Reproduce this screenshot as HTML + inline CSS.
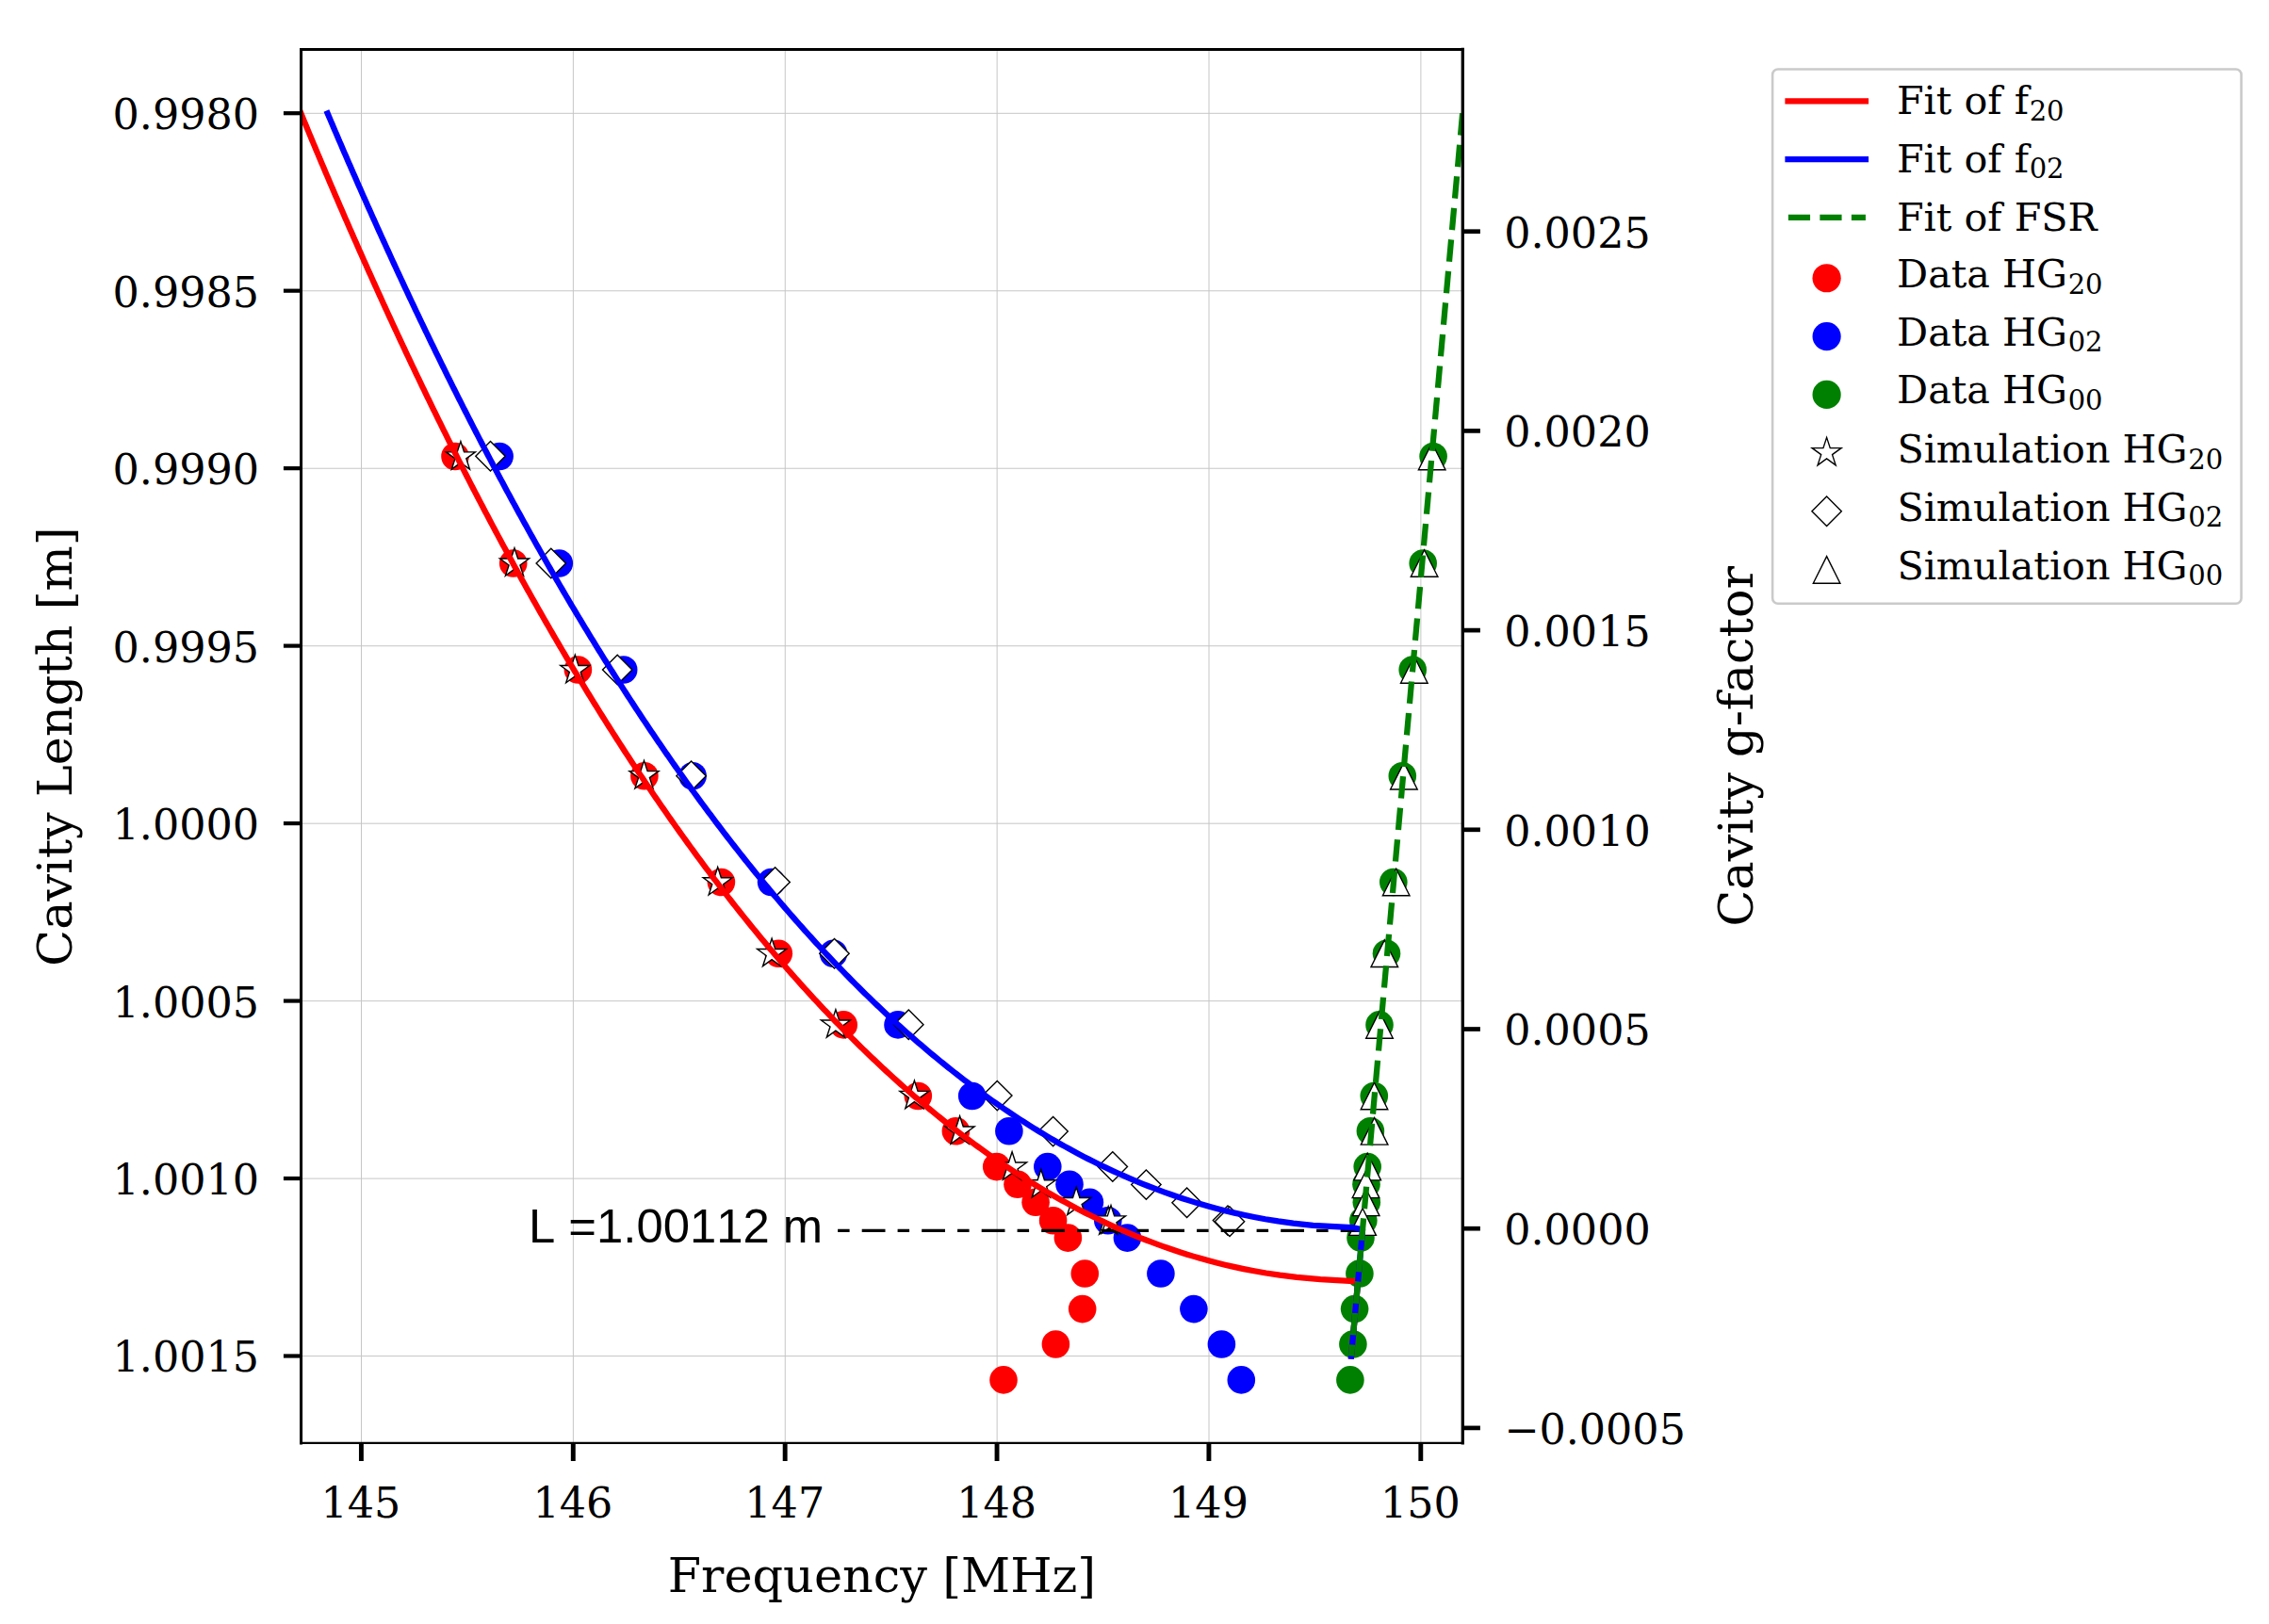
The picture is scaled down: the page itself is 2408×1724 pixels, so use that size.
<!DOCTYPE html>
<html><head><meta charset="utf-8"><title>Cavity Length vs Frequency</title>
<style>html,body{margin:0;padding:0;background:#fff}body{width:2408px;height:1724px;overflow:hidden}</style></head>
<body>
<svg width="2408" height="1724" viewBox="0 0 2408 1724" style="display:block">
<rect width="2408" height="1724" fill="#fff"/>
<defs><clipPath id="ax"><rect x="319.53" y="52.47" width="1232.77" height="1479.46"/></clipPath></defs>
<g stroke="#c6c6c6" stroke-width="1" fill="none"><line x1="383.50" y1="52.47" x2="383.50" y2="1531.93"/><line x1="608.38" y1="52.47" x2="608.38" y2="1531.93"/><line x1="833.26" y1="52.47" x2="833.26" y2="1531.93"/><line x1="1058.14" y1="52.47" x2="1058.14" y2="1531.93"/><line x1="1283.02" y1="52.47" x2="1283.02" y2="1531.93"/><line x1="1507.90" y1="52.47" x2="1507.90" y2="1531.93"/><line x1="319.53" y1="120.30" x2="1552.30" y2="120.30"/><line x1="319.53" y1="308.77" x2="1552.30" y2="308.77"/><line x1="319.53" y1="497.24" x2="1552.30" y2="497.24"/><line x1="319.53" y1="685.71" x2="1552.30" y2="685.71"/><line x1="319.53" y1="874.18" x2="1552.30" y2="874.18"/><line x1="319.53" y1="1062.65" x2="1552.30" y2="1062.65"/><line x1="319.53" y1="1251.12" x2="1552.30" y2="1251.12"/><line x1="319.53" y1="1439.59" x2="1552.30" y2="1439.59"/></g>
<g clip-path="url(#ax)">
<g fill="#ff0000"><circle cx="483.00" cy="484.50" r="14.80"/><circle cx="544.70" cy="598.00" r="14.80"/><circle cx="613.40" cy="711.00" r="14.80"/><circle cx="683.90" cy="823.70" r="14.80"/><circle cx="765.40" cy="936.50" r="14.80"/><circle cx="826.30" cy="1012.20" r="14.80"/><circle cx="895.20" cy="1087.90" r="14.80"/><circle cx="974.30" cy="1163.50" r="14.80"/><circle cx="1014.40" cy="1200.80" r="14.80"/><circle cx="1057.70" cy="1238.60" r="14.80"/><circle cx="1080.00" cy="1257.30" r="14.80"/><circle cx="1099.10" cy="1276.30" r="14.80"/><circle cx="1117.60" cy="1295.70" r="14.80"/><circle cx="1133.40" cy="1314.10" r="14.80"/><circle cx="1151.30" cy="1352.00" r="14.80"/><circle cx="1148.70" cy="1389.60" r="14.80"/><circle cx="1120.40" cy="1427.00" r="14.80"/><circle cx="1065.00" cy="1464.90" r="14.80"/></g>
<g fill="#0000ff"><circle cx="530.10" cy="484.50" r="14.80"/><circle cx="593.30" cy="598.00" r="14.80"/><circle cx="661.70" cy="711.00" r="14.80"/><circle cx="735.10" cy="823.70" r="14.80"/><circle cx="818.60" cy="936.50" r="14.80"/><circle cx="884.50" cy="1012.20" r="14.80"/><circle cx="953.00" cy="1087.90" r="14.80"/><circle cx="1031.70" cy="1163.50" r="14.80"/><circle cx="1070.90" cy="1200.80" r="14.80"/><circle cx="1111.80" cy="1238.60" r="14.80"/><circle cx="1135.00" cy="1257.30" r="14.80"/><circle cx="1156.40" cy="1276.30" r="14.80"/><circle cx="1175.80" cy="1295.70" r="14.80"/><circle cx="1196.40" cy="1314.10" r="14.80"/><circle cx="1231.90" cy="1352.00" r="14.80"/><circle cx="1266.90" cy="1389.60" r="14.80"/><circle cx="1296.40" cy="1427.00" r="14.80"/><circle cx="1317.30" cy="1464.90" r="14.80"/></g>
<g fill="#008000"><circle cx="1521.10" cy="484.50" r="14.80"/><circle cx="1510.20" cy="598.00" r="14.80"/><circle cx="1499.20" cy="711.00" r="14.80"/><circle cx="1488.30" cy="823.70" r="14.80"/><circle cx="1478.80" cy="936.50" r="14.80"/><circle cx="1471.50" cy="1012.20" r="14.80"/><circle cx="1464.00" cy="1087.90" r="14.80"/><circle cx="1458.30" cy="1163.50" r="14.80"/><circle cx="1454.40" cy="1200.80" r="14.80"/><circle cx="1451.20" cy="1238.60" r="14.80"/><circle cx="1450.00" cy="1257.30" r="14.80"/><circle cx="1450.30" cy="1276.30" r="14.80"/><circle cx="1446.80" cy="1295.70" r="14.80"/><circle cx="1444.00" cy="1314.10" r="14.80"/><circle cx="1442.90" cy="1352.00" r="14.80"/><circle cx="1437.60" cy="1389.60" r="14.80"/><circle cx="1435.90" cy="1427.00" r="14.80"/><circle cx="1432.90" cy="1464.90" r="14.80"/></g>
<g fill="#fff" stroke="#000" stroke-width="1.40" stroke-linejoin="miter">
<path d="M488.90 468.60 L485.24 479.86 L473.40 479.86 L482.98 486.82 L479.32 498.09 L488.90 491.13 L498.48 498.09 L494.82 486.82 L504.40 479.86 L492.56 479.86Z"/><path d="M546.00 581.70 L542.34 592.96 L530.50 592.96 L540.08 599.92 L536.42 611.19 L546.00 604.23 L555.58 611.19 L551.92 599.92 L561.50 592.96 L549.66 592.96Z"/><path d="M610.30 695.30 L606.64 706.56 L594.80 706.56 L604.38 713.52 L600.72 724.79 L610.30 717.83 L619.88 724.79 L616.22 713.52 L625.80 706.56 L613.96 706.56Z"/><path d="M683.50 807.40 L679.84 818.66 L668.00 818.66 L677.58 825.62 L673.92 836.89 L683.50 829.93 L693.08 836.89 L689.42 825.62 L699.00 818.66 L687.16 818.66Z"/><path d="M761.70 920.50 L758.04 931.76 L746.20 931.76 L755.78 938.72 L752.12 949.99 L761.70 943.03 L771.28 949.99 L767.62 938.72 L777.20 931.76 L765.36 931.76Z"/><path d="M819.10 996.20 L815.44 1007.46 L803.60 1007.46 L813.18 1014.42 L809.52 1025.69 L819.10 1018.73 L828.68 1025.69 L825.02 1014.42 L834.60 1007.46 L822.76 1007.46Z"/><path d="M886.90 1071.70 L883.24 1082.96 L871.40 1082.96 L880.98 1089.92 L877.32 1101.19 L886.90 1094.23 L896.48 1101.19 L892.82 1089.92 L902.40 1082.96 L890.56 1082.96Z"/><path d="M970.40 1147.10 L966.74 1158.36 L954.90 1158.36 L964.48 1165.32 L960.82 1176.59 L970.40 1169.63 L979.98 1176.59 L976.32 1165.32 L985.90 1158.36 L974.06 1158.36Z"/><path d="M1018.60 1184.80 L1014.94 1196.06 L1003.10 1196.06 L1012.68 1203.02 L1009.02 1214.29 L1018.60 1207.33 L1028.18 1214.29 L1024.52 1203.02 L1034.10 1196.06 L1022.26 1196.06Z"/><path d="M1074.10 1222.80 L1070.44 1234.06 L1058.60 1234.06 L1068.18 1241.02 L1064.52 1252.29 L1074.10 1245.33 L1083.68 1252.29 L1080.02 1241.02 L1089.60 1234.06 L1077.76 1234.06Z"/><path d="M1104.80 1241.50 L1101.14 1252.76 L1089.30 1252.76 L1098.88 1259.72 L1095.22 1270.99 L1104.80 1264.03 L1114.38 1270.99 L1110.72 1259.72 L1120.30 1252.76 L1108.46 1252.76Z"/><path d="M1142.20 1260.20 L1138.54 1271.46 L1126.70 1271.46 L1136.28 1278.42 L1132.62 1289.69 L1142.20 1282.73 L1151.78 1289.69 L1148.12 1278.42 L1157.70 1271.46 L1145.86 1271.46Z"/><path d="M1176.20 1280.70 L1172.54 1291.96 L1160.70 1291.96 L1170.28 1298.92 L1166.62 1310.19 L1176.20 1303.23 L1185.78 1310.19 L1182.12 1298.92 L1191.70 1291.96 L1179.86 1291.96Z"/><path d="M1179.00 1279.60 L1175.34 1290.86 L1163.50 1290.86 L1173.08 1297.82 L1169.42 1309.09 L1179.00 1302.13 L1188.58 1309.09 L1184.92 1297.82 L1194.50 1290.86 L1182.66 1290.86Z"/>
<path d="M520.50 468.60 L536.20 484.30 L520.50 500.00 L504.80 484.30Z"/><path d="M584.80 582.30 L600.50 598.00 L584.80 613.70 L569.10 598.00Z"/><path d="M655.20 695.30 L670.90 711.00 L655.20 726.70 L639.50 711.00Z"/><path d="M733.60 808.00 L749.30 823.70 L733.60 839.40 L717.90 823.70Z"/><path d="M822.60 920.70 L838.30 936.40 L822.60 952.10 L806.90 936.40Z"/><path d="M885.50 996.50 L901.20 1012.20 L885.50 1027.90 L869.80 1012.20Z"/><path d="M964.30 1072.00 L980.00 1087.70 L964.30 1103.40 L948.60 1087.70Z"/><path d="M1058.30 1147.40 L1074.00 1163.10 L1058.30 1178.80 L1042.60 1163.10Z"/><path d="M1117.60 1185.40 L1133.30 1201.10 L1117.60 1216.80 L1101.90 1201.10Z"/><path d="M1180.80 1222.80 L1196.50 1238.50 L1180.80 1254.20 L1165.10 1238.50Z"/><path d="M1216.40 1241.90 L1232.10 1257.60 L1216.40 1273.30 L1200.70 1257.60Z"/><path d="M1259.60 1261.10 L1275.30 1276.80 L1259.60 1292.50 L1243.90 1276.80Z"/><path d="M1303.00 1279.90 L1318.70 1295.60 L1303.00 1311.30 L1287.30 1295.60Z"/><path d="M1305.00 1281.00 L1320.70 1296.70 L1305.00 1312.40 L1289.30 1296.70Z"/>
<path d="M1519.70 470.20 L1534.00 498.80 L1505.40 498.80Z"/><path d="M1511.60 583.70 L1525.90 612.30 L1497.30 612.30Z"/><path d="M1500.80 696.70 L1515.10 725.30 L1486.50 725.30Z"/><path d="M1489.90 809.40 L1504.20 838.00 L1475.60 838.00Z"/><path d="M1481.70 922.20 L1496.00 950.80 L1467.40 950.80Z"/><path d="M1469.30 997.90 L1483.60 1026.50 L1455.00 1026.50Z"/><path d="M1464.00 1073.60 L1478.30 1102.20 L1449.70 1102.20Z"/><path d="M1458.50 1149.20 L1472.80 1177.80 L1444.20 1177.80Z"/><path d="M1458.60 1186.50 L1472.90 1215.10 L1444.30 1215.10Z"/><path d="M1451.20 1224.30 L1465.50 1252.90 L1436.90 1252.90Z"/><path d="M1449.50 1243.00 L1463.80 1271.60 L1435.20 1271.60Z"/><path d="M1449.70 1262.00 L1464.00 1290.60 L1435.40 1290.60Z"/><path d="M1446.10 1282.80 L1460.40 1311.40 L1431.80 1311.40Z"/>
</g>
<line x1="889.1" y1="1306.4" x2="1446.7" y2="1306.4" stroke="#000" stroke-width="3.1" stroke-dasharray="12.5 13.1 24.8 13.1"/>
<polyline points="319.38,120.30 320.29,122.50 321.20,124.70 322.11,126.91 323.02,129.11 323.93,131.31 324.84,133.51 325.75,135.72 326.66,137.92 327.58,140.12 328.49,142.32 329.41,144.53 330.33,146.73 331.25,148.93 332.17,151.13 333.09,153.34 334.01,155.54 334.93,157.74 335.85,159.94 336.78,162.15 337.70,164.35 338.63,166.55 339.56,168.75 340.49,170.96 341.42,173.16 342.35,175.36 343.28,177.56 344.21,179.77 345.14,181.97 346.08,184.17 347.01,186.37 347.95,188.58 348.89,190.78 349.83,192.98 350.77,195.18 351.71,197.39 352.65,199.59 353.59,201.79 354.54,203.99 355.48,206.20 356.43,208.40 357.38,210.60 358.33,212.80 359.27,215.01 360.23,217.21 361.18,219.41 362.13,221.61 363.08,223.82 364.04,226.02 365.00,228.22 365.95,230.42 366.91,232.63 367.87,234.83 368.83,237.03 369.79,239.23 370.76,241.44 371.72,243.64 372.68,245.84 373.65,248.04 374.62,250.25 375.59,252.45 376.56,254.65 377.53,256.85 378.50,259.06 379.47,261.26 380.45,263.46 381.42,265.66 382.40,267.87 383.37,270.07 384.35,272.27 385.33,274.47 386.31,276.68 387.30,278.88 388.28,281.08 389.26,283.28 390.25,285.49 391.24,287.69 392.23,289.89 393.22,292.09 394.21,294.30 395.20,296.50 396.19,298.70 397.19,300.90 398.18,303.11 399.18,305.31 400.18,307.51 401.17,309.71 402.18,311.92 403.18,314.12 404.18,316.32 405.18,318.52 406.19,320.73 407.20,322.93 408.20,325.13 409.21,327.33 410.22,329.54 411.24,331.74 412.25,333.94 413.26,336.14 414.28,338.35 415.30,340.55 416.31,342.75 417.33,344.95 418.35,347.16 419.38,349.36 420.40,351.56 421.42,353.76 422.45,355.97 423.48,358.17 424.51,360.37 425.54,362.57 426.57,364.78 427.60,366.98 428.63,369.18 429.67,371.38 430.70,373.59 431.74,375.79 432.78,377.99 433.82,380.19 434.87,382.40 435.91,384.60 436.95,386.80 438.00,389.00 439.05,391.21 440.10,393.41 441.15,395.61 442.20,397.81 443.25,400.02 444.31,402.22 445.36,404.42 446.42,406.62 447.48,408.83 448.54,411.03 449.60,413.23 450.66,415.43 451.73,417.64 452.80,419.84 453.86,422.04 454.93,424.24 456.00,426.45 457.07,428.65 458.15,430.85 459.22,433.05 460.30,435.26 461.38,437.46 462.46,439.66 463.54,441.86 464.62,444.07 465.70,446.27 466.79,448.47 467.88,450.67 468.96,452.88 470.06,455.08 471.15,457.28 472.24,459.48 473.33,461.69 474.43,463.89 475.53,466.09 476.63,468.29 477.73,470.50 478.83,472.70 479.94,474.90 481.04,477.10 482.15,479.31 483.26,481.51 484.37,483.71 485.48,485.91 486.60,488.12 487.71,490.32 488.83,492.52 489.95,494.72 491.07,496.93 492.19,499.13 493.31,501.33 494.44,503.53 495.57,505.74 496.69,507.94 497.82,510.14 498.96,512.34 500.09,514.55 501.23,516.75 502.36,518.95 503.50,521.15 504.64,523.36 505.79,525.56 506.93,527.76 508.08,529.96 509.22,532.17 510.37,534.37 511.53,536.57 512.68,538.77 513.83,540.98 514.99,543.18 516.15,545.38 517.31,547.58 518.47,549.79 519.64,551.99 520.80,554.19 521.97,556.39 523.14,558.60 524.31,560.80 525.48,563.00 526.66,565.20 527.83,567.40 529.01,569.61 530.19,571.81 531.38,574.01 532.56,576.21 533.75,578.42 534.94,580.62 536.13,582.82 537.32,585.02 538.51,587.23 539.71,589.43 540.91,591.63 542.11,593.83 543.31,596.04 544.51,598.24 545.72,600.44 546.93,602.64 548.14,604.85 549.35,607.05 550.56,609.25 551.78,611.45 553.00,613.66 554.22,615.86 555.44,618.06 556.67,620.26 557.89,622.47 559.12,624.67 560.35,626.87 561.59,629.07 562.82,631.28 564.06,633.48 565.30,635.68 566.54,637.88 567.78,640.09 569.03,642.29 570.28,644.49 571.53,646.69 572.78,648.90 574.03,651.10 575.29,653.30 576.55,655.50 577.81,657.71 579.07,659.91 580.34,662.11 581.61,664.31 582.88,666.52 584.15,668.72 585.43,670.92 586.70,673.12 587.98,675.33 589.27,677.53 590.55,679.73 591.84,681.93 593.13,684.14 594.42,686.34 595.71,688.54 597.01,690.74 598.31,692.95 599.61,695.15 600.91,697.35 602.22,699.55 603.53,701.76 604.84,703.96 606.15,706.16 607.47,708.36 608.79,710.57 610.11,712.77 611.44,714.97 612.76,717.17 614.09,719.38 615.42,721.58 616.76,723.78 618.09,725.98 619.43,728.19 620.78,730.39 622.12,732.59 623.47,734.79 624.82,737.00 626.17,739.20 627.53,741.40 628.89,743.60 630.25,745.81 631.61,748.01 632.98,750.21 634.35,752.41 635.72,754.62 637.10,756.82 638.47,759.02 639.86,761.22 641.24,763.43 642.63,765.63 644.02,767.83 645.41,770.03 646.80,772.24 648.20,774.44 649.60,776.64 651.01,778.84 652.42,781.05 653.83,783.25 655.24,785.45 656.66,787.65 658.08,789.86 659.50,792.06 660.92,794.26 662.35,796.46 663.79,798.67 665.22,800.87 666.66,803.07 668.10,805.27 669.55,807.48 670.99,809.68 672.45,811.88 673.90,814.08 675.36,816.29 676.82,818.49 678.29,820.69 679.75,822.89 681.23,825.10 682.70,827.30 684.18,829.50 685.66,831.70 687.15,833.91 688.63,836.11 690.13,838.31 691.62,840.51 693.12,842.72 694.63,844.92 696.13,847.12 697.64,849.32 699.16,851.53 700.67,853.73 702.19,855.93 703.72,858.13 705.25,860.34 706.78,862.54 708.32,864.74 709.86,866.94 711.40,869.15 712.95,871.35 714.50,873.55 716.06,875.75 717.62,877.96 719.18,880.16 720.75,882.36 722.32,884.56 723.90,886.77 725.48,888.97 727.06,891.17 728.65,893.37 730.24,895.58 731.84,897.78 733.44,899.98 735.04,902.18 736.65,904.39 738.27,906.59 739.89,908.79 741.51,910.99 743.14,913.20 744.77,915.40 746.40,917.60 748.04,919.80 749.69,922.01 751.34,924.21 752.99,926.41 754.65,928.61 756.32,930.82 757.98,933.02 759.66,935.22 761.34,937.42 763.02,939.63 764.71,941.83 766.40,944.03 768.10,946.23 769.80,948.44 771.51,950.64 773.22,952.84 774.94,955.04 776.66,957.25 778.39,959.45 780.13,961.65 781.86,963.85 783.61,966.06 785.36,968.26 787.11,970.46 788.88,972.66 790.64,974.87 792.41,977.07 794.19,979.27 795.97,981.47 797.76,983.68 799.56,985.88 801.36,988.08 803.17,990.28 804.98,992.49 806.80,994.69 808.62,996.89 810.45,999.09 812.29,1001.29 814.13,1003.50 815.98,1005.70 817.84,1007.90 819.70,1010.10 821.57,1012.31 823.44,1014.51 825.33,1016.71 827.21,1018.91 829.11,1021.12 831.01,1023.32 832.92,1025.52 834.84,1027.72 836.76,1029.93 838.69,1032.13 840.62,1034.33 842.57,1036.53 844.52,1038.74 846.48,1040.94 848.44,1043.14 850.42,1045.34 852.40,1047.55 854.39,1049.75 856.38,1051.95 858.39,1054.15 860.40,1056.36 862.42,1058.56 864.45,1060.76 866.49,1062.96 868.53,1065.17 870.58,1067.37 872.65,1069.57 874.72,1071.77 876.80,1073.98 878.88,1076.18 880.98,1078.38 883.08,1080.58 885.20,1082.79 887.32,1084.99 889.46,1087.19 891.60,1089.39 893.75,1091.60 895.91,1093.80 898.08,1096.00 900.26,1098.20 902.45,1100.41 904.66,1102.61 906.87,1104.81 909.09,1107.01 911.32,1109.22 913.56,1111.42 915.82,1113.62 918.08,1115.82 920.36,1118.03 922.65,1120.23 924.95,1122.43 927.26,1124.63 929.58,1126.84 931.91,1129.04 934.26,1131.24 936.62,1133.44 938.99,1135.65 941.37,1137.85 943.76,1140.05 946.17,1142.25 948.60,1144.46 951.03,1146.66 953.48,1148.86 955.94,1151.06 958.42,1153.27 960.91,1155.47 963.42,1157.67 965.94,1159.87 968.47,1162.08 971.03,1164.28 973.59,1166.48 976.17,1168.68 978.77,1170.89 981.39,1173.09 984.02,1175.29 986.66,1177.49 989.33,1179.70 992.01,1181.90 994.71,1184.10 997.43,1186.30 1000.17,1188.51 1002.93,1190.71 1005.70,1192.91 1008.50,1195.11 1011.31,1197.32 1014.15,1199.52 1017.00,1201.72 1019.88,1203.92 1022.78,1206.13 1025.70,1208.33 1028.65,1210.53 1031.62,1212.73 1034.61,1214.94 1037.62,1217.14 1040.66,1219.34 1043.73,1221.54 1046.82,1223.75 1049.94,1225.95 1053.09,1228.15 1056.26,1230.35 1059.47,1232.56 1062.70,1234.76 1065.97,1236.96 1069.26,1239.16 1072.59,1241.37 1075.95,1243.57 1079.34,1245.77 1082.77,1247.97 1086.23,1250.18 1089.74,1252.38 1093.28,1254.58 1096.85,1256.78 1100.47,1258.99 1104.14,1261.19 1107.84,1263.39 1111.59,1265.59 1115.39,1267.80 1119.23,1270.00 1123.13,1272.20 1127.07,1274.40 1131.08,1276.61 1135.13,1278.81 1139.25,1281.01 1143.42,1283.21 1147.66,1285.42 1151.97,1287.62 1156.35,1289.82 1160.79,1292.02 1165.32,1294.23 1169.92,1296.43 1174.61,1298.63 1179.39,1300.83 1184.27,1303.04 1189.24,1305.24 1194.32,1307.44 1199.51,1309.64 1204.83,1311.85 1210.27,1314.05 1215.85,1316.25 1221.58,1318.45 1227.47,1320.66 1233.54,1322.86 1239.80,1325.06 1246.26,1327.26 1252.97,1329.47 1259.92,1331.67 1267.17,1333.87 1274.75,1336.07 1282.71,1338.28 1291.10,1340.48 1300.00,1342.68 1309.53,1344.88 1319.83,1347.09 1331.11,1349.29 1343.73,1351.49 1358.29,1353.69 1376.09,1355.90 1401.31,1358.10 1441.15,1360.30 1440.95,1362.50 1440.75,1364.71 1440.56,1366.91 1440.36,1369.11 1440.17,1371.31 1439.97,1373.52 1439.77,1375.72 1439.58,1377.92 1439.38,1380.12 1439.18,1382.33 1438.99,1384.53 1438.79,1386.73 1438.59,1388.93 1438.40,1391.14 1438.20,1393.34 1438.00,1395.54 1437.81,1397.74 1437.61,1399.95 1437.42,1402.15 1437.22,1404.35 1437.02,1406.55 1436.83,1408.76 1436.63,1410.96 1436.43,1413.16 1436.24,1415.36 1436.04,1417.57 1435.84,1419.77 1435.65,1421.97 1435.45,1424.17 1435.25,1426.38 1435.06,1428.58 1434.86,1430.78 1434.67,1432.98 1434.47,1435.19 1434.27,1437.39 1434.08,1439.59" fill="none" stroke="#ff0000" stroke-width="6.25" stroke-linecap="square" stroke-linejoin="round"/>
<polyline points="347.64,120.30 348.57,122.50 349.51,124.70 350.44,126.91 351.38,129.11 352.31,131.31 353.25,133.51 354.19,135.72 355.13,137.92 356.07,140.12 357.01,142.32 357.96,144.53 358.90,146.73 359.84,148.93 360.79,151.13 361.74,153.34 362.69,155.54 363.63,157.74 364.58,159.94 365.54,162.15 366.49,164.35 367.44,166.55 368.40,168.75 369.35,170.96 370.31,173.16 371.27,175.36 372.23,177.56 373.19,179.77 374.15,181.97 375.11,184.17 376.07,186.37 377.04,188.58 378.01,190.78 378.97,192.98 379.94,195.18 380.91,197.39 381.88,199.59 382.85,201.79 383.82,203.99 384.80,206.20 385.77,208.40 386.75,210.60 387.73,212.80 388.71,215.01 389.68,217.21 390.67,219.41 391.65,221.61 392.63,223.82 393.62,226.02 394.60,228.22 395.59,230.42 396.58,232.63 397.56,234.83 398.55,237.03 399.55,239.23 400.54,241.44 401.53,243.64 402.53,245.84 403.52,248.04 404.52,250.25 405.52,252.45 406.52,254.65 407.52,256.85 408.53,259.06 409.53,261.26 410.53,263.46 411.54,265.66 412.55,267.87 413.56,270.07 414.57,272.27 415.58,274.47 416.59,276.68 417.60,278.88 418.62,281.08 419.64,283.28 420.65,285.49 421.67,287.69 422.69,289.89 423.71,292.09 424.74,294.30 425.76,296.50 426.79,298.70 427.81,300.90 428.84,303.11 429.87,305.31 430.90,307.51 431.94,309.71 432.97,311.92 434.00,314.12 435.04,316.32 436.08,318.52 437.12,320.73 438.16,322.93 439.20,325.13 440.24,327.33 441.29,329.54 442.33,331.74 443.38,333.94 444.43,336.14 445.48,338.35 446.53,340.55 447.58,342.75 448.64,344.95 449.69,347.16 450.75,349.36 451.81,351.56 452.87,353.76 453.93,355.97 454.99,358.17 456.06,360.37 457.12,362.57 458.19,364.78 459.26,366.98 460.33,369.18 461.40,371.38 462.47,373.59 463.55,375.79 464.62,377.99 465.70,380.19 466.78,382.40 467.86,384.60 468.94,386.80 470.03,389.00 471.11,391.21 472.20,393.41 473.29,395.61 474.37,397.81 475.47,400.02 476.56,402.22 477.65,404.42 478.75,406.62 479.85,408.83 480.95,411.03 482.05,413.23 483.15,415.43 484.25,417.64 485.36,419.84 486.46,422.04 487.57,424.24 488.68,426.45 489.79,428.65 490.91,430.85 492.02,433.05 493.14,435.26 494.26,437.46 495.38,439.66 496.50,441.86 497.62,444.07 498.75,446.27 499.87,448.47 501.00,450.67 502.13,452.88 503.26,455.08 504.40,457.28 505.53,459.48 506.67,461.69 507.81,463.89 508.95,466.09 510.09,468.29 511.23,470.50 512.38,472.70 513.53,474.90 514.68,477.10 515.83,479.31 516.98,481.51 518.13,483.71 519.29,485.91 520.45,488.12 521.61,490.32 522.77,492.52 523.93,494.72 525.10,496.93 526.26,499.13 527.43,501.33 528.60,503.53 529.78,505.74 530.95,507.94 532.13,510.14 533.31,512.34 534.49,514.55 535.67,516.75 536.85,518.95 538.04,521.15 539.23,523.36 540.42,525.56 541.61,527.76 542.80,529.96 544.00,532.17 545.19,534.37 546.39,536.57 547.59,538.77 548.80,540.98 550.00,543.18 551.21,545.38 552.42,547.58 553.63,549.79 554.85,551.99 556.06,554.19 557.28,556.39 558.50,558.60 559.72,560.80 560.94,563.00 562.17,565.20 563.40,567.40 564.63,569.61 565.86,571.81 567.09,574.01 568.33,576.21 569.57,578.42 570.81,580.62 572.05,582.82 573.30,585.02 574.55,587.23 575.80,589.43 577.05,591.63 578.30,593.83 579.56,596.04 580.82,598.24 582.08,600.44 583.34,602.64 584.60,604.85 585.87,607.05 587.14,609.25 588.41,611.45 589.69,613.66 590.97,615.86 592.24,618.06 593.53,620.26 594.81,622.47 596.10,624.67 597.38,626.87 598.68,629.07 599.97,631.28 601.26,633.48 602.56,635.68 603.86,637.88 605.17,640.09 606.47,642.29 607.78,644.49 609.09,646.69 610.40,648.90 611.72,651.10 613.04,653.30 614.36,655.50 615.68,657.71 617.01,659.91 618.33,662.11 619.67,664.31 621.00,666.52 622.33,668.72 623.67,670.92 625.02,673.12 626.36,675.33 627.71,677.53 629.06,679.73 630.41,681.93 631.76,684.14 633.12,686.34 634.48,688.54 635.84,690.74 637.21,692.95 638.58,695.15 639.95,697.35 641.32,699.55 642.70,701.76 644.08,703.96 645.46,706.16 646.85,708.36 648.24,710.57 649.63,712.77 651.02,714.97 652.42,717.17 653.82,719.38 655.23,721.58 656.63,723.78 658.04,725.98 659.45,728.19 660.87,730.39 662.29,732.59 663.71,734.79 665.13,737.00 666.56,739.20 667.99,741.40 669.43,743.60 670.87,745.81 672.31,748.01 673.75,750.21 675.20,752.41 676.65,754.62 678.10,756.82 679.56,759.02 681.02,761.22 682.48,763.43 683.95,765.63 685.42,767.83 686.89,770.03 688.37,772.24 689.85,774.44 691.33,776.64 692.82,778.84 694.31,781.05 695.81,783.25 697.31,785.45 698.81,787.65 700.31,789.86 701.82,792.06 703.33,794.26 704.85,796.46 706.37,798.67 707.89,800.87 709.42,803.07 710.95,805.27 712.49,807.48 714.03,809.68 715.57,811.88 717.12,814.08 718.67,816.29 720.22,818.49 721.78,820.69 723.34,822.89 724.91,825.10 726.48,827.30 728.05,829.50 729.63,831.70 731.21,833.91 732.80,836.11 734.39,838.31 735.99,840.51 737.59,842.72 739.19,844.92 740.80,847.12 742.41,849.32 744.03,851.53 745.65,853.73 747.27,855.93 748.90,858.13 750.54,860.34 752.18,862.54 753.82,864.74 755.47,866.94 757.12,869.15 758.78,871.35 760.44,873.55 762.11,875.75 763.78,877.96 765.45,880.16 767.13,882.36 768.82,884.56 770.51,886.77 772.21,888.97 773.91,891.17 775.62,893.37 777.33,895.58 779.04,897.78 780.76,899.98 782.49,902.18 784.22,904.39 785.96,906.59 787.70,908.79 789.45,910.99 791.20,913.20 792.96,915.40 794.73,917.60 796.50,919.80 798.27,922.01 800.05,924.21 801.84,926.41 803.63,928.61 805.43,930.82 807.24,933.02 809.05,935.22 810.86,937.42 812.68,939.63 814.51,941.83 816.35,944.03 818.19,946.23 820.04,948.44 821.89,950.64 823.75,952.84 825.61,955.04 827.49,957.25 829.37,959.45 831.25,961.65 833.14,963.85 835.04,966.06 836.95,968.26 838.86,970.46 840.78,972.66 842.71,974.87 844.64,977.07 846.58,979.27 848.53,981.47 850.49,983.68 852.45,985.88 854.42,988.08 856.40,990.28 858.39,992.49 860.38,994.69 862.38,996.89 864.39,999.09 866.41,1001.29 868.43,1003.50 870.47,1005.70 872.51,1007.90 874.56,1010.10 876.62,1012.31 878.68,1014.51 880.76,1016.71 882.84,1018.91 884.93,1021.12 887.04,1023.32 889.15,1025.52 891.27,1027.72 893.40,1029.93 895.54,1032.13 897.68,1034.33 899.84,1036.53 902.01,1038.74 904.19,1040.94 906.37,1043.14 908.57,1045.34 910.78,1047.55 912.99,1049.75 915.22,1051.95 917.46,1054.15 919.71,1056.36 921.97,1058.56 924.24,1060.76 926.53,1062.96 928.82,1065.17 931.12,1067.37 933.44,1069.57 935.77,1071.77 938.11,1073.98 940.47,1076.18 942.83,1078.38 945.21,1080.58 947.60,1082.79 950.00,1084.99 952.42,1087.19 954.85,1089.39 957.29,1091.60 959.75,1093.80 962.22,1096.00 964.71,1098.20 967.21,1100.41 969.72,1102.61 972.25,1104.81 974.80,1107.01 977.36,1109.22 979.93,1111.42 982.52,1113.62 985.13,1115.82 987.75,1118.03 990.40,1120.23 993.05,1122.43 995.73,1124.63 998.42,1126.84 1001.13,1129.04 1003.86,1131.24 1006.61,1133.44 1009.38,1135.65 1012.17,1137.85 1014.97,1140.05 1017.80,1142.25 1020.65,1144.46 1023.52,1146.66 1026.41,1148.86 1029.32,1151.06 1032.25,1153.27 1035.21,1155.47 1038.19,1157.67 1041.20,1159.87 1044.23,1162.08 1047.29,1164.28 1050.37,1166.48 1053.47,1168.68 1056.61,1170.89 1059.77,1173.09 1062.96,1175.29 1066.18,1177.49 1069.44,1179.70 1072.72,1181.90 1076.03,1184.10 1079.38,1186.30 1082.75,1188.51 1086.17,1190.71 1089.62,1192.91 1093.10,1195.11 1096.63,1197.32 1100.19,1199.52 1103.79,1201.72 1107.43,1203.92 1111.12,1206.13 1114.85,1208.33 1118.63,1210.53 1122.45,1212.73 1126.32,1214.94 1130.25,1217.14 1134.23,1219.34 1138.26,1221.54 1142.35,1223.75 1146.50,1225.95 1150.71,1228.15 1154.99,1230.35 1159.33,1232.56 1163.75,1234.76 1168.24,1236.96 1172.81,1239.16 1177.46,1241.37 1182.20,1243.57 1187.03,1245.77 1191.96,1247.97 1197.00,1250.18 1202.14,1252.38 1207.40,1254.58 1212.78,1256.78 1218.30,1258.99 1223.96,1261.19 1229.78,1263.39 1235.77,1265.59 1241.94,1267.80 1248.31,1270.00 1254.91,1272.20 1261.75,1274.40 1268.87,1276.61 1276.29,1278.81 1284.07,1281.01 1292.26,1283.21 1300.93,1285.42 1310.16,1287.62 1320.10,1289.82 1330.91,1292.02 1342.87,1294.23 1356.46,1296.43 1372.57,1298.63 1393.48,1300.83 1435.12,1303.04 1446.06,1305.24 1445.86,1307.44 1445.67,1309.64 1445.47,1311.85 1445.27,1314.05 1445.08,1316.25 1444.88,1318.45 1444.68,1320.66 1444.49,1322.86 1444.29,1325.06 1444.09,1327.26 1443.90,1329.47 1443.70,1331.67 1443.51,1333.87 1443.31,1336.07 1443.11,1338.28 1442.92,1340.48 1442.72,1342.68 1442.52,1344.88 1442.33,1347.09 1442.13,1349.29 1441.93,1351.49 1441.74,1353.69 1441.54,1355.90 1441.34,1358.10 1441.15,1360.30 1440.95,1362.50 1440.75,1364.71 1440.56,1366.91 1440.36,1369.11 1440.17,1371.31 1439.97,1373.52 1439.77,1375.72 1439.58,1377.92 1439.38,1380.12 1439.18,1382.33 1438.99,1384.53 1438.79,1386.73 1438.59,1388.93 1438.40,1391.14 1438.20,1393.34 1438.00,1395.54 1437.81,1397.74 1437.61,1399.95 1437.42,1402.15 1437.22,1404.35 1437.02,1406.55 1436.83,1408.76 1436.63,1410.96 1436.43,1413.16 1436.24,1415.36 1436.04,1417.57 1435.84,1419.77 1435.65,1421.97 1435.45,1424.17 1435.25,1426.38 1435.06,1428.58 1434.86,1430.78 1434.67,1432.98 1434.47,1435.19 1434.27,1437.39 1434.08,1439.59" fill="none" stroke="#0000ff" stroke-width="6.25" stroke-linecap="square" stroke-linejoin="round"/>
<polyline points="1552.12,120.30 1551.92,122.50 1551.72,124.70 1551.52,126.91 1551.33,129.11 1551.13,131.31 1550.93,133.51 1550.73,135.72 1550.53,137.92 1550.34,140.12 1550.14,142.32 1549.94,144.53 1549.74,146.73 1549.55,148.93 1549.35,151.13 1549.15,153.34 1548.95,155.54 1548.75,157.74 1548.56,159.94 1548.36,162.15 1548.16,164.35 1547.96,166.55 1547.77,168.75 1547.57,170.96 1547.37,173.16 1547.17,175.36 1546.98,177.56 1546.78,179.77 1546.58,181.97 1546.38,184.17 1546.18,186.37 1545.99,188.58 1545.79,190.78 1545.59,192.98 1545.39,195.18 1545.20,197.39 1545.00,199.59 1544.80,201.79 1544.60,203.99 1544.41,206.20 1544.21,208.40 1544.01,210.60 1543.81,212.80 1543.62,215.01 1543.42,217.21 1543.22,219.41 1543.02,221.61 1542.82,223.82 1542.63,226.02 1542.43,228.22 1542.23,230.42 1542.03,232.63 1541.84,234.83 1541.64,237.03 1541.44,239.23 1541.24,241.44 1541.05,243.64 1540.85,245.84 1540.65,248.04 1540.45,250.25 1540.26,252.45 1540.06,254.65 1539.86,256.85 1539.66,259.06 1539.46,261.26 1539.27,263.46 1539.07,265.66 1538.87,267.87 1538.67,270.07 1538.48,272.27 1538.28,274.47 1538.08,276.68 1537.88,278.88 1537.69,281.08 1537.49,283.28 1537.29,285.49 1537.09,287.69 1536.90,289.89 1536.70,292.09 1536.50,294.30 1536.30,296.50 1536.11,298.70 1535.91,300.90 1535.71,303.11 1535.51,305.31 1535.32,307.51 1535.12,309.71 1534.92,311.92 1534.72,314.12 1534.53,316.32 1534.33,318.52 1534.13,320.73 1533.93,322.93 1533.74,325.13 1533.54,327.33 1533.34,329.54 1533.14,331.74 1532.95,333.94 1532.75,336.14 1532.55,338.35 1532.35,340.55 1532.16,342.75 1531.96,344.95 1531.76,347.16 1531.56,349.36 1531.37,351.56 1531.17,353.76 1530.97,355.97 1530.77,358.17 1530.58,360.37 1530.38,362.57 1530.18,364.78 1529.98,366.98 1529.79,369.18 1529.59,371.38 1529.39,373.59 1529.19,375.79 1529.00,377.99 1528.80,380.19 1528.60,382.40 1528.40,384.60 1528.21,386.80 1528.01,389.00 1527.81,391.21 1527.61,393.41 1527.42,395.61 1527.22,397.81 1527.02,400.02 1526.82,402.22 1526.63,404.42 1526.43,406.62 1526.23,408.83 1526.03,411.03 1525.84,413.23 1525.64,415.43 1525.44,417.64 1525.24,419.84 1525.05,422.04 1524.85,424.24 1524.65,426.45 1524.45,428.65 1524.26,430.85 1524.06,433.05 1523.86,435.26 1523.66,437.46 1523.47,439.66 1523.27,441.86 1523.07,444.07 1522.87,446.27 1522.68,448.47 1522.48,450.67 1522.28,452.88 1522.08,455.08 1521.89,457.28 1521.69,459.48 1521.49,461.69 1521.30,463.89 1521.10,466.09 1520.90,468.29 1520.70,470.50 1520.51,472.70 1520.31,474.90 1520.11,477.10 1519.91,479.31 1519.72,481.51 1519.52,483.71 1519.32,485.91 1519.12,488.12 1518.93,490.32 1518.73,492.52 1518.53,494.72 1518.33,496.93 1518.14,499.13 1517.94,501.33 1517.74,503.53 1517.55,505.74 1517.35,507.94 1517.15,510.14 1516.95,512.34 1516.76,514.55 1516.56,516.75 1516.36,518.95 1516.16,521.15 1515.97,523.36 1515.77,525.56 1515.57,527.76 1515.37,529.96 1515.18,532.17 1514.98,534.37 1514.78,536.57 1514.59,538.77 1514.39,540.98 1514.19,543.18 1513.99,545.38 1513.80,547.58 1513.60,549.79 1513.40,551.99 1513.20,554.19 1513.01,556.39 1512.81,558.60 1512.61,560.80 1512.41,563.00 1512.22,565.20 1512.02,567.40 1511.82,569.61 1511.63,571.81 1511.43,574.01 1511.23,576.21 1511.03,578.42 1510.84,580.62 1510.64,582.82 1510.44,585.02 1510.24,587.23 1510.05,589.43 1509.85,591.63 1509.65,593.83 1509.46,596.04 1509.26,598.24 1509.06,600.44 1508.86,602.64 1508.67,604.85 1508.47,607.05 1508.27,609.25 1508.08,611.45 1507.88,613.66 1507.68,615.86 1507.48,618.06 1507.29,620.26 1507.09,622.47 1506.89,624.67 1506.69,626.87 1506.50,629.07 1506.30,631.28 1506.10,633.48 1505.91,635.68 1505.71,637.88 1505.51,640.09 1505.31,642.29 1505.12,644.49 1504.92,646.69 1504.72,648.90 1504.53,651.10 1504.33,653.30 1504.13,655.50 1503.93,657.71 1503.74,659.91 1503.54,662.11 1503.34,664.31 1503.14,666.52 1502.95,668.72 1502.75,670.92 1502.55,673.12 1502.36,675.33 1502.16,677.53 1501.96,679.73 1501.76,681.93 1501.57,684.14 1501.37,686.34 1501.17,688.54 1500.98,690.74 1500.78,692.95 1500.58,695.15 1500.38,697.35 1500.19,699.55 1499.99,701.76 1499.79,703.96 1499.60,706.16 1499.40,708.36 1499.20,710.57 1499.00,712.77 1498.81,714.97 1498.61,717.17 1498.41,719.38 1498.22,721.58 1498.02,723.78 1497.82,725.98 1497.62,728.19 1497.43,730.39 1497.23,732.59 1497.03,734.79 1496.84,737.00 1496.64,739.20 1496.44,741.40 1496.25,743.60 1496.05,745.81 1495.85,748.01 1495.65,750.21 1495.46,752.41 1495.26,754.62 1495.06,756.82 1494.87,759.02 1494.67,761.22 1494.47,763.43 1494.27,765.63 1494.08,767.83 1493.88,770.03 1493.68,772.24 1493.49,774.44 1493.29,776.64 1493.09,778.84 1492.89,781.05 1492.70,783.25 1492.50,785.45 1492.30,787.65 1492.11,789.86 1491.91,792.06 1491.71,794.26 1491.52,796.46 1491.32,798.67 1491.12,800.87 1490.92,803.07 1490.73,805.27 1490.53,807.48 1490.33,809.68 1490.14,811.88 1489.94,814.08 1489.74,816.29 1489.55,818.49 1489.35,820.69 1489.15,822.89 1488.95,825.10 1488.76,827.30 1488.56,829.50 1488.36,831.70 1488.17,833.91 1487.97,836.11 1487.77,838.31 1487.57,840.51 1487.38,842.72 1487.18,844.92 1486.98,847.12 1486.79,849.32 1486.59,851.53 1486.39,853.73 1486.20,855.93 1486.00,858.13 1485.80,860.34 1485.61,862.54 1485.41,864.74 1485.21,866.94 1485.01,869.15 1484.82,871.35 1484.62,873.55 1484.42,875.75 1484.23,877.96 1484.03,880.16 1483.83,882.36 1483.64,884.56 1483.44,886.77 1483.24,888.97 1483.04,891.17 1482.85,893.37 1482.65,895.58 1482.45,897.78 1482.26,899.98 1482.06,902.18 1481.86,904.39 1481.67,906.59 1481.47,908.79 1481.27,910.99 1481.08,913.20 1480.88,915.40 1480.68,917.60 1480.48,919.80 1480.29,922.01 1480.09,924.21 1479.89,926.41 1479.70,928.61 1479.50,930.82 1479.30,933.02 1479.11,935.22 1478.91,937.42 1478.71,939.63 1478.52,941.83 1478.32,944.03 1478.12,946.23 1477.92,948.44 1477.73,950.64 1477.53,952.84 1477.33,955.04 1477.14,957.25 1476.94,959.45 1476.74,961.65 1476.55,963.85 1476.35,966.06 1476.15,968.26 1475.96,970.46 1475.76,972.66 1475.56,974.87 1475.37,977.07 1475.17,979.27 1474.97,981.47 1474.77,983.68 1474.58,985.88 1474.38,988.08 1474.18,990.28 1473.99,992.49 1473.79,994.69 1473.59,996.89 1473.40,999.09 1473.20,1001.29 1473.00,1003.50 1472.81,1005.70 1472.61,1007.90 1472.41,1010.10 1472.22,1012.31 1472.02,1014.51 1471.82,1016.71 1471.63,1018.91 1471.43,1021.12 1471.23,1023.32 1471.04,1025.52 1470.84,1027.72 1470.64,1029.93 1470.44,1032.13 1470.25,1034.33 1470.05,1036.53 1469.85,1038.74 1469.66,1040.94 1469.46,1043.14 1469.26,1045.34 1469.07,1047.55 1468.87,1049.75 1468.67,1051.95 1468.48,1054.15 1468.28,1056.36 1468.08,1058.56 1467.89,1060.76 1467.69,1062.96 1467.49,1065.17 1467.30,1067.37 1467.10,1069.57 1466.90,1071.77 1466.71,1073.98 1466.51,1076.18 1466.31,1078.38 1466.12,1080.58 1465.92,1082.79 1465.72,1084.99 1465.53,1087.19 1465.33,1089.39 1465.13,1091.60 1464.94,1093.80 1464.74,1096.00 1464.54,1098.20 1464.35,1100.41 1464.15,1102.61 1463.95,1104.81 1463.76,1107.01 1463.56,1109.22 1463.36,1111.42 1463.16,1113.62 1462.97,1115.82 1462.77,1118.03 1462.57,1120.23 1462.38,1122.43 1462.18,1124.63 1461.98,1126.84 1461.79,1129.04 1461.59,1131.24 1461.39,1133.44 1461.20,1135.65 1461.00,1137.85 1460.80,1140.05 1460.61,1142.25 1460.41,1144.46 1460.21,1146.66 1460.02,1148.86 1459.82,1151.06 1459.62,1153.27 1459.43,1155.47 1459.23,1157.67 1459.03,1159.87 1458.84,1162.08 1458.64,1164.28 1458.44,1166.48 1458.25,1168.68 1458.05,1170.89 1457.85,1173.09 1457.66,1175.29 1457.46,1177.49 1457.26,1179.70 1457.07,1181.90 1456.87,1184.10 1456.67,1186.30 1456.48,1188.51 1456.28,1190.71 1456.08,1192.91 1455.89,1195.11 1455.69,1197.32 1455.49,1199.52 1455.30,1201.72 1455.10,1203.92 1454.91,1206.13 1454.71,1208.33 1454.51,1210.53 1454.32,1212.73 1454.12,1214.94 1453.92,1217.14 1453.73,1219.34 1453.53,1221.54 1453.33,1223.75 1453.14,1225.95 1452.94,1228.15 1452.74,1230.35 1452.55,1232.56 1452.35,1234.76 1452.15,1236.96 1451.96,1239.16 1451.76,1241.37 1451.56,1243.57 1451.37,1245.77 1451.17,1247.97 1450.97,1250.18 1450.78,1252.38 1450.58,1254.58 1450.38,1256.78 1450.19,1258.99 1449.99,1261.19 1449.79,1263.39 1449.60,1265.59 1449.40,1267.80 1449.20,1270.00 1449.01,1272.20 1448.81,1274.40 1448.61,1276.61 1448.42,1278.81 1448.22,1281.01 1448.02,1283.21 1447.83,1285.42 1447.63,1287.62 1447.44,1289.82 1447.24,1292.02 1447.04,1294.23 1446.85,1296.43 1446.65,1298.63 1446.45,1300.83 1446.26,1303.04 1446.06,1305.24 1445.86,1307.44 1445.67,1309.64 1445.47,1311.85 1445.27,1314.05 1445.08,1316.25 1444.88,1318.45 1444.68,1320.66 1444.49,1322.86 1444.29,1325.06 1444.09,1327.26 1443.90,1329.47 1443.70,1331.67 1443.51,1333.87 1443.31,1336.07 1443.11,1338.28 1442.92,1340.48 1442.72,1342.68 1442.52,1344.88 1442.33,1347.09 1442.13,1349.29 1441.93,1351.49 1441.74,1353.69 1441.54,1355.90 1441.34,1358.10 1441.15,1360.30 1440.95,1362.50 1440.75,1364.71 1440.56,1366.91 1440.36,1369.11 1440.17,1371.31 1439.97,1373.52 1439.77,1375.72 1439.58,1377.92 1439.38,1380.12 1439.18,1382.33 1438.99,1384.53 1438.79,1386.73 1438.59,1388.93 1438.40,1391.14 1438.20,1393.34 1438.00,1395.54 1437.81,1397.74 1437.61,1399.95 1437.42,1402.15 1437.22,1404.35 1437.02,1406.55 1436.83,1408.76 1436.63,1410.96 1436.43,1413.16 1436.24,1415.36 1436.04,1417.57 1435.84,1419.77 1435.65,1421.97 1435.45,1424.17 1435.25,1426.38 1435.06,1428.58 1434.86,1430.78 1434.67,1432.98 1434.47,1435.19 1434.27,1437.39 1434.08,1439.59" fill="none" stroke="#008000" stroke-width="6.25" stroke-dasharray="23.4 10.25" stroke-linejoin="round"/>
</g>
<text x="561" y="1319.3" font-family='"Liberation Sans","DejaVu Sans",sans-serif' font-size="50.8" fill="#000" style="font-kerning:none">L =1.00112 m</text>
<g stroke="#000" stroke-linecap="square">
<line x1="319.53" y1="52.47" x2="1552.30" y2="52.47" stroke-width="3.06"/>
<line x1="319.53" y1="1531.93" x2="1552.30" y2="1531.93" stroke-width="2.14"/>
<line x1="319.53" y1="52.47" x2="319.53" y2="1531.93" stroke-width="3.05"/>
<line x1="1552.30" y1="52.47" x2="1552.30" y2="1531.93" stroke-width="3.3"/>
</g>
<g stroke="#000"><line x1="383.40" y1="1531.93" x2="383.40" y2="1551.00" stroke-width="4.9"/><line x1="608.28" y1="1531.93" x2="608.28" y2="1551.00" stroke-width="4.9"/><line x1="833.16" y1="1531.93" x2="833.16" y2="1551.00" stroke-width="4.9"/><line x1="1058.04" y1="1531.93" x2="1058.04" y2="1551.00" stroke-width="4.9"/><line x1="1282.92" y1="1531.93" x2="1282.92" y2="1551.00" stroke-width="4.9"/><line x1="1507.80" y1="1531.93" x2="1507.80" y2="1551.00" stroke-width="4.9"/><line x1="319.53" y1="120.20" x2="300.90" y2="120.20" stroke-width="4.2"/><line x1="319.53" y1="308.67" x2="300.90" y2="308.67" stroke-width="4.2"/><line x1="319.53" y1="497.14" x2="300.90" y2="497.14" stroke-width="4.2"/><line x1="319.53" y1="685.61" x2="300.90" y2="685.61" stroke-width="4.2"/><line x1="319.53" y1="874.08" x2="300.90" y2="874.08" stroke-width="4.2"/><line x1="319.53" y1="1062.55" x2="300.90" y2="1062.55" stroke-width="4.2"/><line x1="319.53" y1="1251.02" x2="300.90" y2="1251.02" stroke-width="4.2"/><line x1="319.53" y1="1439.49" x2="300.90" y2="1439.49" stroke-width="4.2"/><line x1="1552.30" y1="1515.90" x2="1570.90" y2="1515.90" stroke-width="4.7"/><line x1="1552.30" y1="1304.20" x2="1570.90" y2="1304.20" stroke-width="4.7"/><line x1="1552.30" y1="1092.50" x2="1570.90" y2="1092.50" stroke-width="4.7"/><line x1="1552.30" y1="880.80" x2="1570.90" y2="880.80" stroke-width="4.7"/><line x1="1552.30" y1="669.10" x2="1570.90" y2="669.10" stroke-width="4.7"/><line x1="1552.30" y1="457.40" x2="1570.90" y2="457.40" stroke-width="4.7"/><line x1="1552.30" y1="245.70" x2="1570.90" y2="245.70" stroke-width="4.7"/></g>
<g font-family='"DejaVu Serif","Liberation Serif",serif' font-size="44.45" fill="#000"><text x="383.00" y="1610.5" text-anchor="middle">145</text><text x="607.88" y="1610.5" text-anchor="middle">146</text><text x="832.76" y="1610.5" text-anchor="middle">147</text><text x="1057.64" y="1610.5" text-anchor="middle">148</text><text x="1282.52" y="1610.5" text-anchor="middle">149</text><text x="1507.40" y="1610.5" text-anchor="middle">150</text><text x="275.1" y="137.20" text-anchor="end">0.9980</text><text x="275.1" y="325.67" text-anchor="end">0.9985</text><text x="275.1" y="514.14" text-anchor="end">0.9990</text><text x="275.1" y="702.61" text-anchor="end">0.9995</text><text x="275.1" y="891.08" text-anchor="end">1.0000</text><text x="275.1" y="1079.55" text-anchor="end">1.0005</text><text x="275.1" y="1268.02" text-anchor="end">1.0010</text><text x="275.1" y="1456.49" text-anchor="end">1.0015</text><text x="1596.2" y="1532.80">−0.0005</text><text x="1596.2" y="1321.10">0.0000</text><text x="1596.2" y="1109.40">0.0005</text><text x="1596.2" y="897.70">0.0010</text><text x="1596.2" y="686.00">0.0015</text><text x="1596.2" y="474.30">0.0020</text><text x="1596.2" y="262.60">0.0025</text></g>
<g font-family='"DejaVu Serif","Liberation Serif",serif' font-size="50.90" fill="#000" text-anchor="middle">
<text x="936" y="1690.1">Frequency [MHz]</text>
<text transform="translate(76.3 792.5) rotate(-90)">Cavity Length [m]</text>
<text transform="translate(1859.5 792.3) rotate(-90)">Cavity g-factor</text>
</g>
<rect x="1881.1" y="73.45" width="497.5" height="567.35" rx="5.8" ry="5.8" fill="#fff" stroke="#cacaca" stroke-width="2.6"/>
<line x1="1897.5" x2="1979.9" y1="107.30" y2="107.30" stroke="#ff0000" stroke-width="6.25" stroke-linecap="square"/>
<line x1="1897.5" x2="1979.9" y1="169.10" y2="169.10" stroke="#0000ff" stroke-width="6.25" stroke-linecap="square"/>
<line x1="1897.85" x2="1979.9" y1="230.80" y2="230.80" stroke="#008000" stroke-width="6.25" stroke-dasharray="23.2 10.3"/>
<circle cx="1938.60" cy="295.25" r="15.10" fill="#ff0000"/>
<circle cx="1938.60" cy="357.10" r="15.10" fill="#0000ff"/>
<circle cx="1938.60" cy="418.90" r="15.10" fill="#008000"/>
<g fill="#fff" stroke="#000" stroke-width="1.40">
<path d="M1938.60 464.40 L1934.94 475.66 L1923.10 475.66 L1932.68 482.62 L1929.02 493.89 L1938.60 486.93 L1948.18 493.89 L1944.52 482.62 L1954.10 475.66 L1942.26 475.66Z"/>
<path d="M1938.60 527.00 L1954.30 542.70 L1938.60 558.40 L1922.90 542.70Z"/>
<path d="M1938.60 590.60 L1952.90 619.20 L1924.30 619.20Z"/>
</g>
<g font-family='"DejaVu Serif","Liberation Serif",serif' font-size="41.25" fill="#000">
<text x="2013.00" y="121.40">Fit of f<tspan font-size="29.00" dx="0.7" dy="6.4">20</tspan></text>
<text x="2013.00" y="183.00">Fit of f<tspan font-size="29.00" dx="0.7" dy="6.4">02</tspan></text>
<text x="2013.00" y="244.90">Fit of FSR</text>
<text x="2013.10" y="305.15">Data HG<tspan font-size="29.00" dx="0.7" dy="6.4">20</tspan></text>
<text x="2013.10" y="366.55">Data HG<tspan font-size="29.00" dx="0.7" dy="6.4">02</tspan></text>
<text x="2013.10" y="428.30">Data HG<tspan font-size="29.00" dx="0.7" dy="6.4">00</tspan></text>
<text x="2013.40" y="491.45">Simulation HG<tspan font-size="29.00" dx="0.7" dy="6.4">20</tspan></text>
<text x="2013.40" y="553.05">Simulation HG<tspan font-size="29.00" dx="0.7" dy="6.4">02</tspan></text>
<text x="2013.40" y="614.65">Simulation HG<tspan font-size="29.00" dx="0.7" dy="6.4">00</tspan></text>
</g>
</svg>
</body></html>
